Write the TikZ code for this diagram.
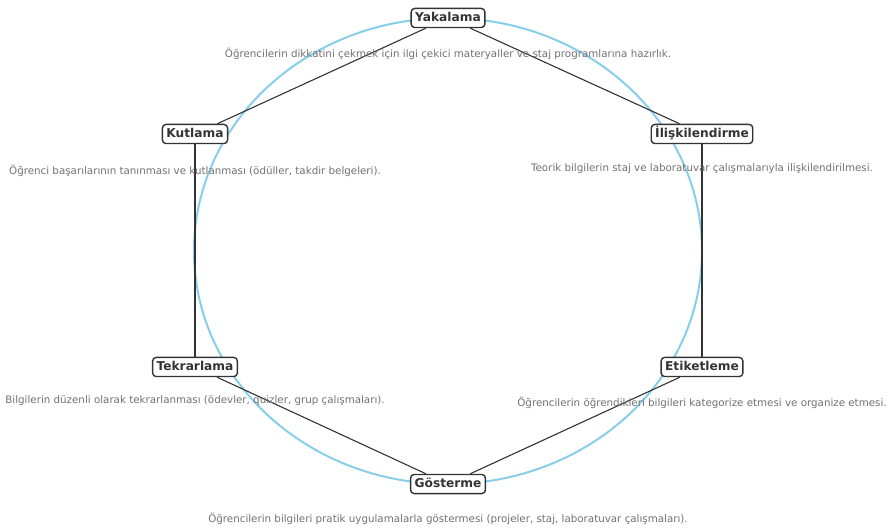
\documentclass[tikz,border=0pt]{standalone}
\usepackage{fontspec}
\setmainfont{DejaVu Sans}
\usetikzlibrary{backgrounds}
\definecolor{ringblue}{HTML}{87CEEB}
\definecolor{boxline}{HTML}{333333}
\definecolor{desctext}{HTML}{707070}
\begin{document}
\begin{tikzpicture}[x=1pt,y=-1pt,
  stage/.style={draw=boxline, line width=1.4pt, fill=white, rounded corners=3.5pt,
    font=\fontsize{12.2}{14}\selectfont\bfseries, text=boxline,
    text height=9pt, text depth=2.5pt,
    inner xsep=4pt, inner ysep=3.8pt},
  desc/.style={font=\fontsize{10.3}{12}\selectfont, text=desctext, inner sep=0pt},
  link/.style={draw=boxline, line width=1.1pt}]
\useasboundingbox (0,0) rectangle (892,529);
\node[stage] (Y) at (448,18) {Yakalama};
\node[stage] (I) at (702,134) {İlişkilendirme};
\node[stage] (E) at (702,367) {Etiketleme};
\node[stage] (G) at (448,484) {Gösterme};
\node[stage] (T) at (195,367) {Tekrarlama};
\node[stage] (K) at (195,134) {Kutlama};
\begin{scope}[on background layer]
\draw[ringblue, line width=2pt] (448,251) ellipse [x radius=254, y radius=233];
\draw[link] (Y) -- (I);
\draw[link] (I) -- (E);
\draw[link] (E) -- (G);
\draw[link] (G) -- (T);
\draw[link] (T) -- (K);
\draw[link] (K) -- (Y);
\end{scope}
\node[desc] (dY) at (448,54) {Öğrencilerin dikkatini çekmek için ilgi çekici materyaller ve staj programlarına hazırlık.};
\node[desc] (dI) at (702,169) {Teorik bilgilerin staj ve laboratuvar çalışmalarıyla ilişkilendirilmesi.};
\node[desc] (dE) at (702,403) {Öğrencilerin öğrendikleri bilgileri kategorize etmesi ve organize etmesi.};
\node[desc] (dG) at (448,519) {Öğrencilerin bilgileri pratik uygulamalarla göstermesi (projeler, staj, laboratuvar çalışmaları).};
\node[desc] (dT) at (195,401) {Bilgilerin düzenli olarak tekrarlanması (ödevler, quizler, grup çalışmaları).};
\node[desc] (dK) at (195,171) {Öğrenci başarılarının tanınması ve kutlanması (ödüller, takdir belgeleri).};
\end{tikzpicture}
\end{document}
